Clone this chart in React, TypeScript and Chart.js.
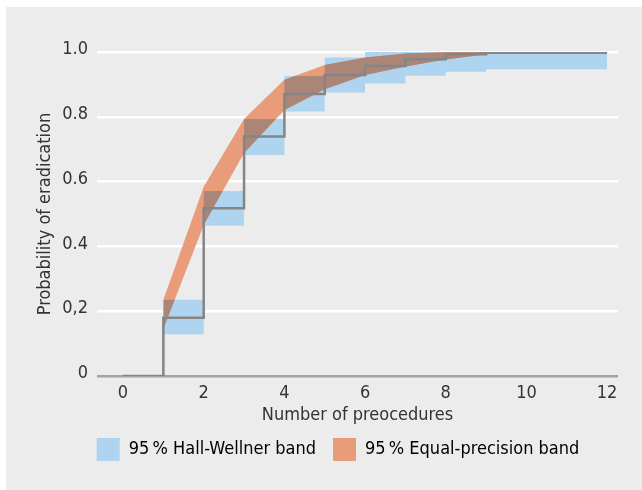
import { useEffect, useRef } from 'react';
import { Chart, registerables } from 'chart.js';

Chart.register(...registerables);

// Kaplan-Meier step estimate
const stepX = [0, 1, 2, 3, 4, 5, 6, 7, 8, 9, 12];
const stepY = [0, 0.18, 0.518, 0.739, 0.87, 0.929, 0.957, 0.978, 0.993, 0.998, 0.998];

// 95% Hall-Wellner band (stepped)
const hwX = [1, 2, 3, 4, 5, 6, 7, 8, 9, 12];
const hwUpper = [0.235, 0.571, 0.793, 0.926, 0.983, 1.0, 1.0, 1.0, 1.0, 1.0];
const hwLower = [0.129, 0.464, 0.682, 0.816, 0.875, 0.903, 0.927, 0.939, 0.947, 0.947];

// 95% Equal-precision band (linear)
const epX = [1, 2, 3, 4, 5, 6, 7, 8, 9];
const epUpper = [0.235, 0.584, 0.793, 0.914, 0.96, 0.983, 0.995, 0.999, 1.0];
const epLower = [0.145, 0.466, 0.688, 0.821, 0.885, 0.929, 0.955, 0.977, 0.993];

const xTicks = [0, 2, 4, 6, 8, 10, 12];
const yTicks = [0, 0.2, 0.4, 0.6, 0.8, 1.0];
const yTickLabels = ['0', '0,2', '0.4', '0.6', '0.8', '1.0'];
const legendLabels = ['95\u2009% Hall-Wellner band', '95\u2009% Equal-precision band'];
const xTitle = 'Number of preocedures';
const yTitle = 'Probability of eradication';

const BLUE = '#AED4F0';
const ORANGE = '#E99C7A';
const OVERLAP = '#AB8677';
const STEP = '#858585';
const BG = '#EBECEB';
const TEXT = '#333333';
const FONT = { family: "'DejaVu Sans Condensed', 'DejaVu Sans', sans-serif", size: 18 };

const pts = (xs: number[], ys: number[]) => xs.map((x, i) => ({ x, y: ys[i] }));

const panelPlugin = {
  id: 'panel',
  beforeDraw(chart: any) {
    const { ctx, width, height } = chart;
    ctx.save();
    ctx.fillStyle = '#ffffff';
    ctx.fillRect(0, 0, width, height);
    ctx.fillStyle = BG;
    ctx.fillRect(6, 7, width - 6, height - 7);
    ctx.restore();
  },
  afterLayout(chart: any) {
    const lg = chart.legend;
    if (lg) {
      const dx = 29;
      const dy = -19;
      lg.left += dx; lg.right += dx; lg.top += dy; lg.bottom += dy;
    }
  },
};

const overlapPlugin = {
  id: 'overlap',
  afterDatasetDraw(chart: any, args: any) {
    if (args.index !== 1) return;
    const up = chart.getDatasetMeta(1).data;
    const lo = chart.getDatasetMeta(2).data;
    const bu = chart.getDatasetMeta(3).data;
    const bl = chart.getDatasetMeta(4).data;
    const { ctx, chartArea } = chart;
    ctx.save();
    ctx.beginPath();
    ctx.rect(chartArea.left, chartArea.top, chartArea.right - chartArea.left, chartArea.bottom - chartArea.top);
    ctx.clip();
    ctx.beginPath();
    up.forEach((p: any, i: number) => (i === 0 ? ctx.moveTo(p.x, p.y) : ctx.lineTo(p.x, p.y)));
    for (let i = lo.length - 1; i >= 0; i--) ctx.lineTo(lo[i].x, lo[i].y);
    ctx.closePath();
    ctx.clip();
    ctx.beginPath();
    ctx.moveTo(bu[0].x, bu[0].y);
    for (let i = 1; i < bu.length; i++) {
      ctx.lineTo(bu[i].x, bu[i - 1].y);
      ctx.lineTo(bu[i].x, bu[i].y);
    }
    const n = bl.length;
    ctx.lineTo(bl[n - 1].x, bl[n - 1].y);
    for (let i = n - 1; i > 0; i--) {
      ctx.lineTo(bl[i].x, bl[i - 1].y);
      ctx.lineTo(bl[i - 1].x, bl[i - 1].y);
    }
    ctx.closePath();
    ctx.fillStyle = OVERLAP;
    ctx.fill();
    ctx.restore();
  },
};

export default function App() {
  const ref = useRef<HTMLCanvasElement>(null);
  useEffect(() => {
    document.body.style.margin = '0';
    const chart = new Chart(ref.current as HTMLCanvasElement, {
      type: 'line',
      data: {
        datasets: [
          {
            label: 'Estimate',
            data: pts(stepX, stepY),
            stepped: 'before',
            borderColor: STEP,
            borderWidth: 2.5,
            pointRadius: 0,
            fill: false,
            order: 0,
          },
          {
            label: legendLabels[1],
            data: pts(epX, epUpper),
            borderWidth: 0,
            borderColor: 'rgba(0,0,0,0)',
            backgroundColor: ORANGE,
            pointRadius: 0,
            fill: '+1',
            order: 1,
          },
          {
            label: 'ep-lower',
            data: pts(epX, epLower),
            borderWidth: 0,
            borderColor: 'rgba(0,0,0,0)',
            pointRadius: 0,
            fill: false,
            order: 1,
          },
          {
            label: legendLabels[0],
            data: pts(hwX, hwUpper),
            stepped: 'before',
            borderWidth: 0,
            borderColor: 'rgba(0,0,0,0)',
            backgroundColor: BLUE,
            pointRadius: 0,
            fill: '+1',
            order: 2,
          },
          {
            label: 'hw-lower',
            data: pts(hwX, hwLower),
            stepped: 'before',
            borderWidth: 0,
            borderColor: 'rgba(0,0,0,0)',
            pointRadius: 0,
            fill: false,
            order: 2,
          },
        ],
      },
      options: {
        responsive: false,
        animation: false,
        layout: { padding: { top: 52, right: 24, bottom: 0, left: 0 } },
        scales: {
          x: {
            type: 'linear',
            min: -0.645,
            max: 12.27,
            afterBuildTicks: (s: any) => {
              s.ticks = xTicks.map((v) => ({ value: v }));
            },
            afterFit: (s: any) => {
              s.height = 64;
            },
            grid: { display: false, drawTicks: false },
            border: { display: false },
            ticks: { font: FONT, color: TEXT, padding: 7, maxRotation: 0, autoSkip: false },
            title: { display: true, text: xTitle, font: FONT, color: TEXT, padding: { top: 0, bottom: 14 } },
          },
          y: {
            type: 'linear',
            min: 0,
            max: 1,
            afterBuildTicks: (s: any) => {
              s.ticks = yTicks.map((v) => ({ value: v }));
            },
            afterFit: (s: any) => {
              s.width = 97;
            },
            grid: {
              color: (c: any) => (c.tick && c.tick.value === 0 ? '#A3A3A3' : '#FFFFFF'),
              lineWidth: 2.5,
              drawTicks: false,
            },
            border: { display: false },
            ticks: {
              font: FONT,
              color: TEXT,
              padding: 9,
              labelOffset: -2.5,
              autoSkip: false,
              callback: (_v: any, i: number) => yTickLabels[i],
            },
            title: { display: true, text: yTitle, font: FONT, color: TEXT, padding: { top: 35, bottom: 0 } },
          },
        },
        plugins: {
          tooltip: { enabled: false },
          legend: {
            position: 'bottom',
            labels: {
              font: FONT,
              color: TEXT,
              boxWidth: 23,
              boxHeight: 23,
              padding: 17,
              generateLabels: () => [
                { text: legendLabels[0], fillStyle: BLUE, strokeStyle: 'rgba(0,0,0,0)', lineWidth: 0, hidden: false, datasetIndex: 3 },
                { text: legendLabels[1], fillStyle: ORANGE, strokeStyle: 'rgba(0,0,0,0)', lineWidth: 0, hidden: false, datasetIndex: 1 },
              ],
            },
          },
        },
      },
      plugins: [panelPlugin, overlapPlugin],
    } as any);
    return () => chart.destroy();
  }, []);
  return (
    <div style={{ width: 642, height: 490 }}>
      <canvas ref={ref} width={642} height={490} style={{ display: 'block' }} />
    </div>
  );
}
